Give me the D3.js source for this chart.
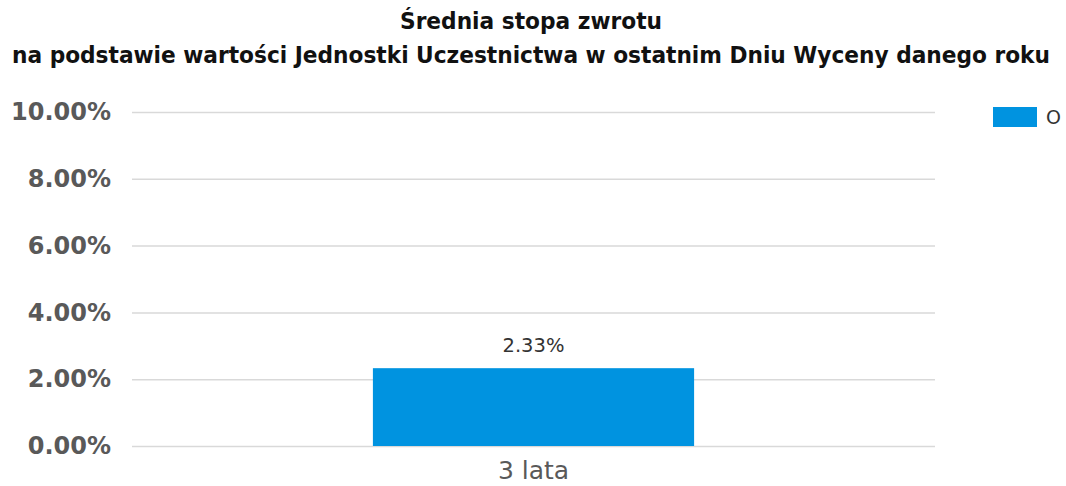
<!DOCTYPE html>
<html><head><meta charset="utf-8">
<script src="https://cdn.jsdelivr.net/npm/d3@7"></script>
<style>body{margin:0;background:#fff}</style>
</head><body>
<svg id="c" width="1066" height="486"></svg>
<script>
const titleLines = ["Średnia stopa zwrotu", "na podstawie wartości Jednostki Uczestnictwa w ostatnim Dniu Wyceny danego roku"];
const categories = ["3 lata"];
const seriesName = "O";
const values = [2.33];
const yTicks = [0, 2, 4, 6, 8, 10];

const svg = d3.select("#c");
const m = {left: 132, right: 131, top: 112, bottom: 40};
const W = 1066, H = 486;
const x = d3.scaleBand().domain(categories).range([m.left, W - m.right]).paddingInner(0.6).paddingOuter(0.3);
const y = d3.scaleLinear().domain([0, 10]).range([446, 112]);

const titleW = [262, 1038];
svg.append("g").selectAll("text").data(titleLines).join("text")
  .attr("x", 531).attr("y", (d, i) => 29 + i * 34)
  .attr("text-anchor", "middle")
  .attr("font-family", "DejaVu Sans Condensed").attr("font-weight", "bold")
  .attr("font-size", 23).attr("fill", "#111")
  .attr("textLength", (d, i) => titleW[i]).attr("lengthAdjust", "spacingAndGlyphs")
  .text(d => d);

const ga = svg.append("g").attr("transform", `translate(${m.left},0)`)
  .call(d3.axisLeft(y).tickValues(yTicks).tickSize(-(W - m.left - m.right)).tickPadding(21)
    .tickFormat(d => d3.format(".2f")(d) + "%"));
ga.select(".domain").remove();
ga.selectAll(".tick line").attr("stroke", "#d9d9d9").attr("stroke-width", 1.5);
ga.selectAll(".tick text").attr("font-family", "DejaVu Sans").attr("font-weight", "bold")
  .attr("font-size", 24).attr("fill", "#595959");

svg.append("g").selectAll("rect").data(values).join("rect")
  .attr("x", (d, i) => x(categories[i])).attr("width", x.bandwidth())
  .attr("y", d => y(d)).attr("height", d => y(0) - y(d)).attr("fill", "#0093e0");

svg.append("g").selectAll("text").data(values).join("text")
  .attr("x", (d, i) => x(categories[i]) + x.bandwidth() / 2).attr("y", d => y(d) - 16)
  .attr("text-anchor", "middle").attr("font-family", "DejaVu Sans")
  .attr("font-size", 19.5).attr("fill", "#333").text(d => d.toFixed(2) + "%");

const gx = svg.append("g").attr("transform", `translate(0,${y(0)})`)
  .call(d3.axisBottom(x).tickSize(0).tickPadding(19));
gx.select(".domain").remove();
gx.selectAll(".tick text").attr("font-family", "DejaVu Sans").attr("font-size", 25)
  .attr("fill", "#595959").attr("dy", "0.55em");

const lg = svg.append("g").attr("transform", "translate(993,107)");
lg.append("rect").attr("width", 44).attr("height", 20).attr("fill", "#0093e0");
lg.append("text").attr("x", 53).attr("y", 17).attr("font-family", "DejaVu Sans")
  .attr("font-size", 19).attr("fill", "#333").text(seriesName);
</script>
</body></html>
